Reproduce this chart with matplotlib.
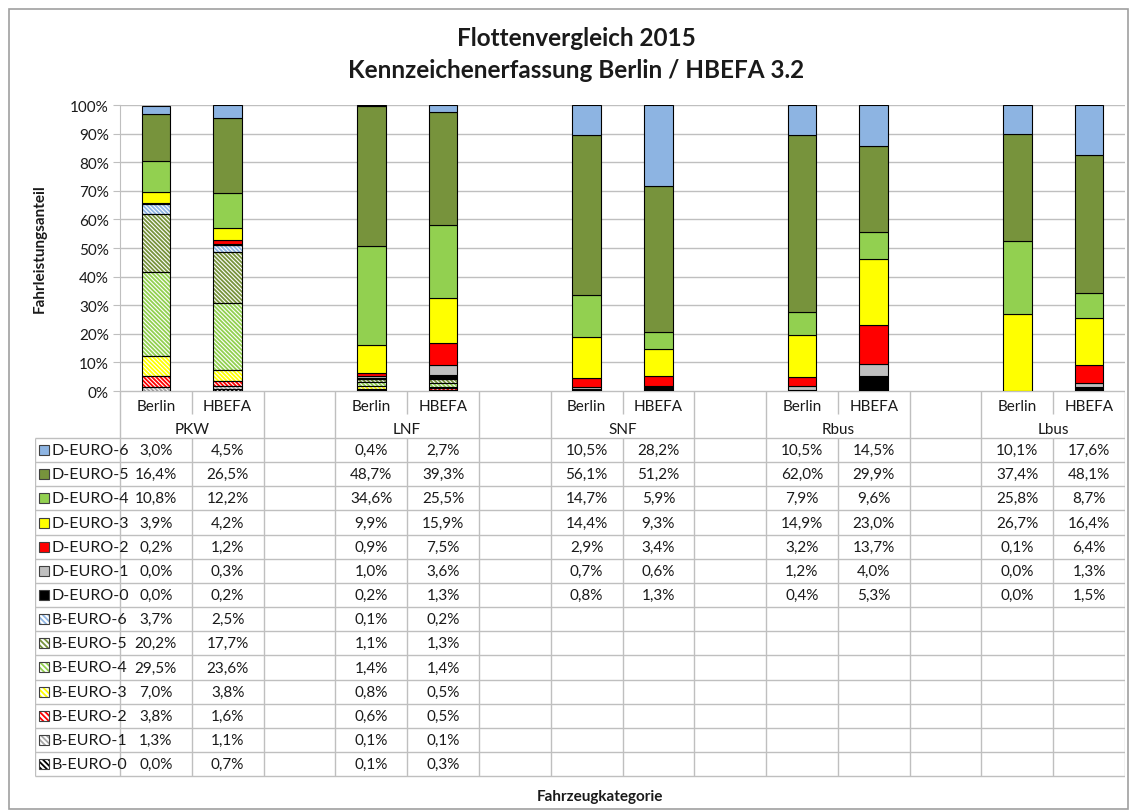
import numpy as np
import matplotlib
matplotlib.use("Agg")
import matplotlib.pyplot as plt
from matplotlib.patches import Rectangle

plt.rcParams['font.family'] = ['Lato', 'DejaVu Sans']
plt.rcParams['hatch.linewidth'] = 1.3

# ---- data (percent), order per category: Berlin, HBEFA ----
categories = ["PKW", "LNF", "SNF", "Rbus", "Lbus"]
sources = ["Berlin", "HBEFA"]

classes = ["D-EURO-6", "D-EURO-5", "D-EURO-4", "D-EURO-3", "D-EURO-2", "D-EURO-1", "D-EURO-0",
           "B-EURO-6", "B-EURO-5", "B-EURO-4", "B-EURO-3", "B-EURO-2", "B-EURO-1", "B-EURO-0"]

d_euro6 = [3.0, 4.5, 0.4, 2.7, 10.5, 28.2, 10.5, 14.5, 10.1, 17.6]
d_euro5 = [16.4, 26.5, 48.7, 39.3, 56.1, 51.2, 62.0, 29.9, 37.4, 48.1]
d_euro4 = [10.8, 12.2, 34.6, 25.5, 14.7, 5.9, 7.9, 9.6, 25.8, 8.7]
d_euro3 = [3.9, 4.2, 9.9, 15.9, 14.4, 9.3, 14.9, 23.0, 26.7, 16.4]
d_euro2 = [0.2, 1.2, 0.9, 7.5, 2.9, 3.4, 3.2, 13.7, 0.1, 6.4]
d_euro1 = [0.0, 0.3, 1.0, 3.6, 0.7, 0.6, 1.2, 4.0, 0.0, 1.3]
d_euro0 = [0.0, 0.2, 0.2, 1.3, 0.8, 1.3, 0.4, 5.3, 0.0, 1.5]
b_euro6 = [3.7, 2.5, 0.1, 0.2, None, None, None, None, None, None]
b_euro5 = [20.2, 17.7, 1.1, 1.3, None, None, None, None, None, None]
b_euro4 = [29.5, 23.6, 1.4, 1.4, None, None, None, None, None, None]
b_euro3 = [7.0, 3.8, 0.8, 0.5, None, None, None, None, None, None]
b_euro2 = [3.8, 1.6, 0.6, 0.5, None, None, None, None, None, None]
b_euro1 = [1.3, 1.1, 0.1, 0.1, None, None, None, None, None, None]
b_euro0 = [0.0, 0.7, 0.1, 0.3, None, None, None, None, None, None]

values = [d_euro6, d_euro5, d_euro4, d_euro3, d_euro2, d_euro1, d_euro0,
          b_euro6, b_euro5, b_euro4, b_euro3, b_euro2, b_euro1, b_euro0]

colors = ["#8DB4E2", "#77933C", "#92D050", "#FFFF00", "#FF0000", "#BFBFBF", "#000000",
          "#8DB4E2", "#77933C", "#92D050", "#FFFF00", "#FF0000", "#A6A6A6", "#000000"]
hatched = [False] * 7 + [True] * 7

# ---- layout (pixels) ----
W, H = 1130, 812
ax_l, ax_r, ax_t, ax_b = 120, 1125, 106, 392
nslots = 14
slot = (ax_r - ax_l) / nslots
positions = [0, 1, 3, 4, 6, 7, 9, 10, 12, 13]
grid_c = "#BFBFBF"
txt_c = "#1a1a1a"
fs = 11
bar_hatch = "\\" * 8

fig = plt.figure(figsize=(W / 100, H / 100), dpi=100)

# outer frame
fig.patches.append(Rectangle((9 / W, 1 - 810 / H), 1119 / W, 800 / H, transform=fig.transFigure,
                             fill=False, edgecolor="#A0A0A0", lw=1.2))

ax = fig.add_axes([ax_l / W, 1 - ax_b / H, (ax_r - ax_l) / W, (ax_b - ax_t) / H])
ax.set_xlim(-0.5, nslots - 0.5)
ax.set_ylim(0, 100)

# stacked bars, bottom = B-EURO-0 ... top = D-EURO-6
bottom = np.zeros(len(positions))
for idx in reversed(range(len(classes))):
    vals = np.array([v if v is not None else 0.0 for v in values[idx]])
    for j, x in enumerate(positions):
        v = vals[j]
        if v <= 0:
            continue
        if hatched[idx]:
            ax.bar(x, v, 0.4, bottom=bottom[j], facecolor="white", edgecolor=colors[idx],
                   hatch=bar_hatch, lw=0, zorder=3)
            ax.bar(x, v, 0.4, bottom=bottom[j], fill=False, edgecolor="black", lw=0.8, zorder=4)
        else:
            ax.bar(x, v, 0.4, bottom=bottom[j], color=colors[idx], edgecolor="black", lw=0.8, zorder=3)
    bottom += vals

ax.set_yticks(np.arange(0, 101, 10))
ax.set_yticklabels([f"{t}%" for t in range(0, 101, 10)], fontsize=fs, color=txt_c)
ax.set_xticks([])
ax.yaxis.grid(True, color=grid_c, lw=1)
ax.set_axisbelow(True)
for s in ["top", "right", "bottom"]:
    ax.spines[s].set_visible(False)
ax.spines["left"].set_color(grid_c)
ax.tick_params(axis="y", length=5, color=grid_c, pad=3)
ax.patch.set_alpha(0)

# ---- data table ----
tab_l = 35
tab_b = 790
tax = fig.add_axes([tab_l / W, 1 - tab_b / H, (ax_r - tab_l) / W, (tab_b - ax_b) / H])
x_left = -0.5 - (ax_l - tab_l) / slot
tax.set_xlim(x_left, nslots - 0.5)
tax.set_ylim(tab_b, ax_b)
tax.axis("off")

row_top = 439
row_h = 24.15
table_bottom = row_top + row_h * len(classes)
lk = dict(color=grid_c, lw=1, solid_capstyle="butt")

# axis line at bottom of the plot
tax.plot([-0.5, nslots - 0.5], [ax_b, ax_b], **lk)

# header verticals
group_edges = [-0.5, 1.5, 2.5, 4.5, 5.5, 7.5, 8.5, 10.5, 11.5, 13.5]
for xe in group_edges:
    tax.plot([xe, xe], [ax_b, row_top], **lk)
for c in range(len(categories)):
    xm = positions[2 * c] + 0.5
    tax.plot([xm, xm], [ax_b, 415], **lk)
    tax.text(xm, 430, categories[c], ha="center", va="center", fontsize=fs, color=txt_c)
for j, x in enumerate(positions):
    tax.text(x, 407, sources[j % 2], ha="center", va="center", fontsize=fs, color=txt_c)

# body grid
for i in range(len(classes) + 1):
    y = row_top + i * row_h
    tax.plot([x_left, nslots - 0.5], [y, y], **lk)
for xe in [x_left] + [k - 0.5 for k in range(nslots + 1)]:
    tax.plot([xe, xe], [row_top, table_bottom], **lk)

key_w = 10 / slot
for i, name in enumerate(classes):
    yc = row_top + (i + 0.5) * row_h
    kx = x_left + 4 / slot
    if hatched[i]:
        tax.add_patch(Rectangle((kx, yc - 5), key_w, 10, facecolor="white", edgecolor=colors[i],
                                hatch="\\" * 6, lw=0))
        tax.add_patch(Rectangle((kx, yc - 5), key_w, 10, fill=False, edgecolor="#404040", lw=0.8))
    else:
        tax.add_patch(Rectangle((kx, yc - 5), key_w, 10, facecolor=colors[i], edgecolor="#404040", lw=0.8))
    tax.text(kx + key_w + 2.5 / slot, yc, name, ha="left", va="center", fontsize=fs + 0.5, color=txt_c)
    for j, x in enumerate(positions):
        v = values[i][j]
        if v is None:
            continue
        tax.text(x, yc, f"{v:.1f}%".replace(".", ","), ha="center", va="center",
                 fontsize=fs, color=txt_c)

# ---- titles ----
fig.text(576 / W, 1 - 39 / H, "Flottenvergleich 2015", ha="center", va="center",
         fontsize=17.5, fontweight="bold", color=txt_c)
fig.text(576 / W, 1 - 71 / H, "Kennzeichenerfassung Berlin / HBEFA 3.2", ha="center", va="center",
         fontsize=17.5, fontweight="bold", color=txt_c)
fig.text(600 / W, 1 - 797 / H, "Fahrzeugkategorie", ha="center", va="center",
         fontsize=fs, fontweight="bold", color=txt_c)
fig.text(40 / W, 1 - 249 / H, "Fahrleistungsanteil", ha="center", va="center", rotation=90,
         fontsize=fs, fontweight="bold", color=txt_c)

fig.savefig("out.png", dpi=100)
